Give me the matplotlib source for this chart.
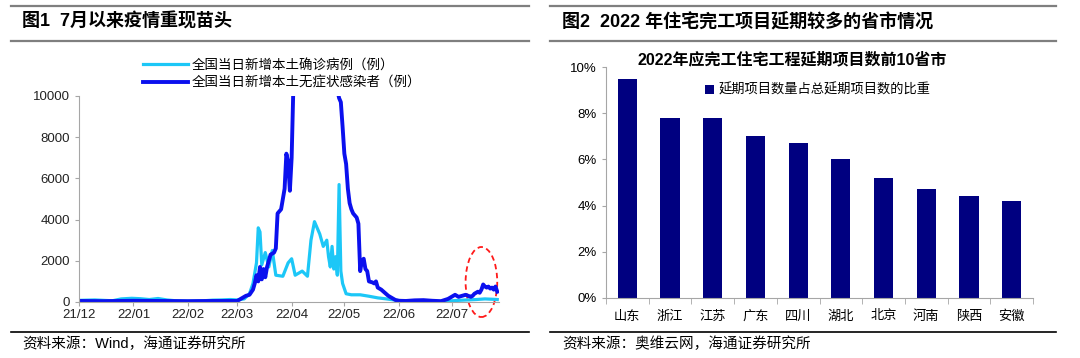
import numpy as np
import pandas as pd
import matplotlib.pyplot as plt
import matplotlib.dates as mdates
from matplotlib.lines import Line2D
from matplotlib.patches import Ellipse

plt.rcParams['font.family'] = ['Liberation Sans', 'Noto Sans CJK SC', 'DejaVu Sans']

# ---- 图1 数据 ----
conf_dates = ['2021-12-01', '2021-12-10', '2021-12-20', '2021-12-25', '2021-12-31', '2022-01-05',
              '2022-01-10', '2022-01-15', '2022-01-20', '2022-01-25', '2022-02-01', '2022-02-10',
              '2022-02-15', '2022-02-20', '2022-02-25', '2022-03-01', '2022-03-05', '2022-03-08',
              '2022-03-10', '2022-03-12', '2022-03-13', '2022-03-14', '2022-03-15', '2022-03-17',
              '2022-03-19', '2022-03-21', '2022-03-23', '2022-03-27', '2022-03-30', '2022-04-01',
              '2022-04-03', '2022-04-07', '2022-04-10', '2022-04-12', '2022-04-14', '2022-04-15',
              '2022-04-17', '2022-04-19', '2022-04-21', '2022-04-22', '2022-04-23', '2022-04-24',
              '2022-04-25', '2022-04-26', '2022-04-27', '2022-04-28', '2022-04-29', '2022-04-30',
              '2022-05-02', '2022-05-05', '2022-05-10', '2022-05-15', '2022-05-20', '2022-05-25',
              '2022-05-31', '2022-06-05', '2022-06-10', '2022-06-15', '2022-06-20', '2022-06-25',
              '2022-06-30', '2022-07-05', '2022-07-10', '2022-07-15', '2022-07-20', '2022-07-25',
              '2022-07-27']
conf_vals = [80, 100, 60, 150, 180, 160, 120, 170, 100, 60, 40, 60, 90, 100, 120, 100, 150, 400,
             900, 1900, 3600, 3400, 1800, 2400, 1700, 2500, 1300, 1250, 1900, 2100, 1300, 1500,
             1250, 3000, 3900, 3700, 3300, 2700, 3000, 2200, 1700, 2700, 1600, 2200, 1300, 5700,
             1500, 900, 400, 350, 350, 280, 200, 150, 80, 50, 60, 70, 40, 30, 50, 80, 100, 120,
             150, 130, 120]

asym_dates = ['2021-12-01', '2021-12-15', '2022-01-01', '2022-01-15', '2022-02-01', '2022-02-15',
              '2022-03-01', '2022-03-04', '2022-03-06', '2022-03-08', '2022-03-10', '2022-03-11',
              '2022-03-12', '2022-03-13', '2022-03-14', '2022-03-15', '2022-03-16', '2022-03-17',
              '2022-03-18', '2022-03-19', '2022-03-20', '2022-03-22', '2022-03-23', '2022-03-24',
              '2022-03-25', '2022-03-26', '2022-03-28', '2022-03-29', '2022-03-30', '2022-03-31',
              '2022-04-01', '2022-04-02', '2022-04-03', '2022-04-06', '2022-04-10', '2022-04-13',
              '2022-04-17', '2022-04-21', '2022-04-25', '2022-04-27', '2022-04-28', '2022-04-29',
              '2022-04-30', '2022-05-01', '2022-05-02', '2022-05-03', '2022-05-04', '2022-05-05',
              '2022-05-06', '2022-05-08', '2022-05-09', '2022-05-10', '2022-05-11', '2022-05-12',
              '2022-05-13', '2022-05-14', '2022-05-15', '2022-05-17', '2022-05-18', '2022-05-19',
              '2022-05-20', '2022-05-22', '2022-05-24', '2022-05-26', '2022-05-28', '2022-05-30',
              '2022-06-01', '2022-06-05', '2022-06-10', '2022-06-15', '2022-06-20', '2022-06-25',
              '2022-06-29', '2022-07-01', '2022-07-03', '2022-07-05', '2022-07-07', '2022-07-09',
              '2022-07-12', '2022-07-13', '2022-07-14', '2022-07-15', '2022-07-16', '2022-07-17',
              '2022-07-18', '2022-07-19', '2022-07-20', '2022-07-21', '2022-07-22', '2022-07-23',
              '2022-07-24', '2022-07-25', '2022-07-26', '2022-07-27']
asym_vals = [50, 40, 60, 50, 40, 50, 50, 200, 300, 350, 600, 900, 1300, 1000, 1700, 1100, 1600,
             1200, 1700, 2000, 2300, 2400, 2600, 4300, 4400, 4500, 5500, 7200, 6800, 5400, 7000,
             10500, 13000, 20000, 24000, 25000, 20000, 16000, 13000, 10300, 9900, 9700, 8500,
             7200, 6700, 5500, 4800, 4500, 4300, 4100, 3800, 1500, 2000, 2100, 1600, 1500, 1000,
             950, 900, 1000, 700, 600, 450, 300, 200, 100, 60, 50, 80, 90, 60, 40, 150, 250, 350,
             250, 300, 350, 250, 300, 400, 450, 500, 450, 600, 850, 750, 700, 750, 650, 700, 600,
             750, 500]

month_labels = ['21/12', '22/01', '22/02', '22/03', '22/04', '22/05', '22/06', '22/07']

# ---- 图2 数据 ----
provinces = ['山东', '浙江', '江苏', '广东', '四川', '湖北', '北京', '河南', '陕西', '安徽']
delay_share = [9.5, 7.8, 7.8, 7.0, 6.7, 6.0, 5.2, 4.7, 4.4, 4.2]

fig = plt.figure(figsize=(10.8, 3.58), dpi=100)
W, H = 1080, 358

def hline(x0, x1, y, lw=1.6, color='#7f7f7f'):
    fig.add_artist(Line2D([x0 / W, x1 / W], [1 - y / H, 1 - y / H], color=color, lw=lw))

# 标题栏线
hline(11, 529, 6)
hline(11, 529, 41)
hline(11, 529, 332, lw=1.2, color='#000000')
hline(550, 1056, 6)
hline(550, 1056, 41)
hline(550, 1056, 332, lw=1.2, color='#000000')

fig.text(22 / W, 1 - 22 / H, '图1  7月以来疫情重现苗头', fontsize=13, fontweight='bold',
         va='center', ha='left')
fig.text(562 / W, 1 - 22 / H, '图2  2022 年住宅完工项目延期较多的省市情况', fontsize=13,
         fontweight='bold', va='center', ha='left')
fig.text(22 / W, 1 - 344 / H, '资料来源：Wind，海通证券研究所', fontsize=10.5, va='center', ha='left')
fig.text(562 / W, 1 - 344 / H, '资料来源：奥维云网，海通证券研究所', fontsize=10.5, va='center',
         ha='left')

# ---- 左图 ----
ax1 = fig.add_axes([79 / W, 1 - 302 / H, (499 - 79) / W, (302 - 96) / H])
cd = pd.to_datetime(conf_dates)
ad = pd.to_datetime(asym_dates)
ax1.plot(cd, conf_vals, color='#1CC7F7', lw=2.3, label='全国当日新增本土确诊病例（例）')
ax1.plot(ad, asym_vals, color='#0B10EE', lw=2.8, label='全国当日新增本土无症状感染者（例）')
ax1.set_ylim(0, 10000)
ax1.set_xlim(pd.Timestamp('2021-12-01'), pd.Timestamp('2022-07-28'))
ax1.set_yticks([0, 2000, 4000, 6000, 8000, 10000])
ticks = pd.date_range('2021-12-01', '2022-07-01', freq='MS')
ax1.set_xticks(ticks)
ax1.set_xticklabels(month_labels)
for s in ['top', 'right']:
    ax1.spines[s].set_visible(False)
for s in ['left', 'bottom']:
    ax1.spines[s].set_color('#a6a6a6')
ax1.tick_params(axis='both', labelsize=9.5, colors='#a6a6a6', labelcolor='#222222', length=3)
ax1.tick_params(axis='x', pad=2)
ax1.legend(loc='upper left', bbox_to_anchor=(0.14, 1.205), frameon=False, fontsize=9.7,
           handlelength=3.3, handletextpad=0.3, labelspacing=0.3, borderaxespad=0)
ell = Ellipse((mdates.date2num(pd.Timestamp('2022-07-18')), 970), width=18, height=3400,
              fill=False, ec='#ff1a1a', ls=(0, (3, 2)), lw=1.3, clip_on=False)
ax1.add_patch(ell)

# ---- 右图 ----
ax2 = fig.add_axes([606 / W, 1 - 298 / H, (1033 - 606) / W, (298 - 67) / H])
xpos = np.arange(len(provinces))
ax2.bar(xpos, delay_share, width=0.45, color='#000080', label='延期项目数量占总延期项目数的比重')
ax2.set_xlim(-0.5, len(provinces) - 0.5)
ax2.set_ylim(0, 10)
ax2.set_yticks([0, 2, 4, 6, 8, 10])
ax2.set_yticklabels(['0%', '2%', '4%', '6%', '8%', '10%'])
ax2.set_xticks(xpos)
ax2.set_xticklabels(provinces)
ax2.set_xticks(np.arange(-0.5, len(provinces)), minor=True)
ax2.tick_params(axis='x', which='major', length=0, pad=9, labelsize=9.5)
ax2.tick_params(axis='x', which='minor', length=4, color='#a6a6a6')
ax2.tick_params(axis='y', labelsize=9.5, length=3, color='#a6a6a6')
for s in ['top', 'right']:
    ax2.spines[s].set_visible(False)
for s in ['left', 'bottom']:
    ax2.spines[s].set_color('#a6a6a6')
fig.text(792 / W, 1 - 60 / H, '2022年应完工住宅工程延期项目数前10省市', fontsize=11.5,
         fontweight='bold', ha='center', va='center')
ax2.legend(loc='upper left', bbox_to_anchor=(0.22, 0.95), frameon=False, fontsize=9.5,
           handlelength=0.7, handleheight=0.7, handletextpad=0.3, borderaxespad=0)

fig.savefig('out.png', dpi=100)
